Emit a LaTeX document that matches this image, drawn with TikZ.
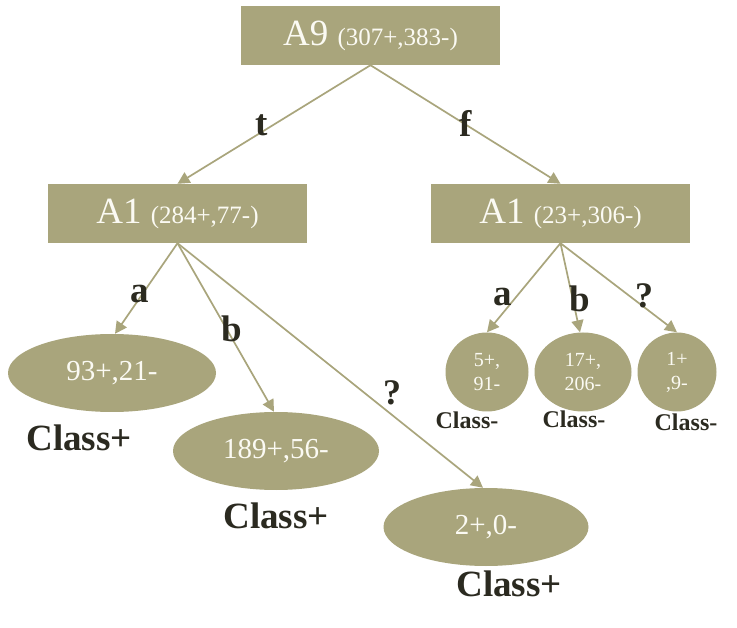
\documentclass[tikz,border=0pt]{standalone}
\usepackage{fontspec}
\setmainfont{Liberation Serif}
\usetikzlibrary{shapes.geometric,arrows.meta}
\definecolor{olivefill}{HTML}{A9A57C}
\definecolor{ink}{HTML}{2B2A20}
\definecolor{paper}{HTML}{FBFAF3}
\begin{document}
\begin{tikzpicture}[x=1pt,y=-1pt,
  box/.style={rectangle, fill=olivefill, minimum width=259pt, minimum height=59pt, inner sep=0pt, text=paper, font=\fontsize{37}{39}\selectfont},
  leaf/.style={ellipse, fill=olivefill, inner sep=0pt, text=paper, font=\fontsize{29}{31}\selectfont},
  tiny/.style={ellipse, fill=olivefill, inner sep=0pt, text=paper, align=center, font=\fontsize{20}{24}\selectfont},
  conn/.style={draw=olivefill, line width=1.7pt, -{Triangle[length=12pt,width=12pt]}},
  lab/.style={text=ink, inner sep=0pt, font=\bfseries\fontsize{37}{39}\selectfont},
  qlab/.style={text=ink, inner sep=0pt, font=\bfseries\fontsize{36}{38}\selectfont},
  clab/.style={text=ink, inner sep=0pt, font=\bfseries\fontsize{24}{26}\selectfont}]
\useasboundingbox (0,0) rectangle (737,628);
\fill[white] (0,0) rectangle (737,628);

\node[box] (root) at (370.5,35.5) {A9 {\fontsize{25}{27}\selectfont(307+,383-)}};
\node[box] (lt) at (177.5,213.5) {A1 {\fontsize{25}{27}\selectfont(284+,77-)}};
\node[box] (rt) at (560.5,213.5) {A1 {\fontsize{25}{27}\selectfont(23+,306-)}};

\node[leaf, minimum width=208pt, minimum height=78pt] (e1) at (112,373) {93+,21-};
\node[leaf, minimum width=206pt, minimum height=78pt] (e2) at (276,451) {189+,56-};
\node[leaf, minimum width=205pt, minimum height=78pt] (e3) at (486,527) {2+,0-};

\node[tiny, minimum width=83pt, minimum height=79pt] (c1) at (487,372) {5+,\\91-};
\node[tiny, minimum width=97pt, minimum height=79pt] (c2) at (583,372) {17+,\\206-};
\node[tiny, minimum width=79pt, minimum height=79pt] (c3) at (677,372) {1+\\,9-};

\draw[conn] (root.south) -- (lt.north);
\draw[conn] (root.south) -- (rt.north);
\draw[conn] (lt.south) -- ([xshift=3pt]e1.north);
\draw[conn] (lt.south) -- ([xshift=-2pt]e2.north);
\draw[conn] (lt.south) -- ([xshift=-3pt]e3.north);
\draw[conn] (rt.south) -- (c1.north);
\draw[conn] (rt.south) -- ([xshift=-3pt]c2.north);
\draw[conn] (rt.south) -- (c3.north);

\node[lab] (lt1) at (262,125) {t};
\node[lab] (lf1) at (466,123) {f};
\node[lab] (la1) at (140,294) {a};
\node[lab] (lb1) at (232,329) {b};
\node[qlab] (lq1) at (392,393) {?};
\node[lab] (la2) at (503,297) {a};
\node[lab] (lb2) at (580,299) {b};
\node[qlab] (lq2) at (644,296) {?};

\node[lab] (cp1) at (79,438) {Class+};
\node[lab] (cp2) at (276,516) {Class+};
\node[lab] (cp3) at (509,584) {Class+};
\node[clab] (cm1) at (467,420) {Class-};
\node[clab] (cm2) at (574,419) {Class-};
\node[clab] (cm3) at (686,422) {Class-};
\end{tikzpicture}
\end{document}
